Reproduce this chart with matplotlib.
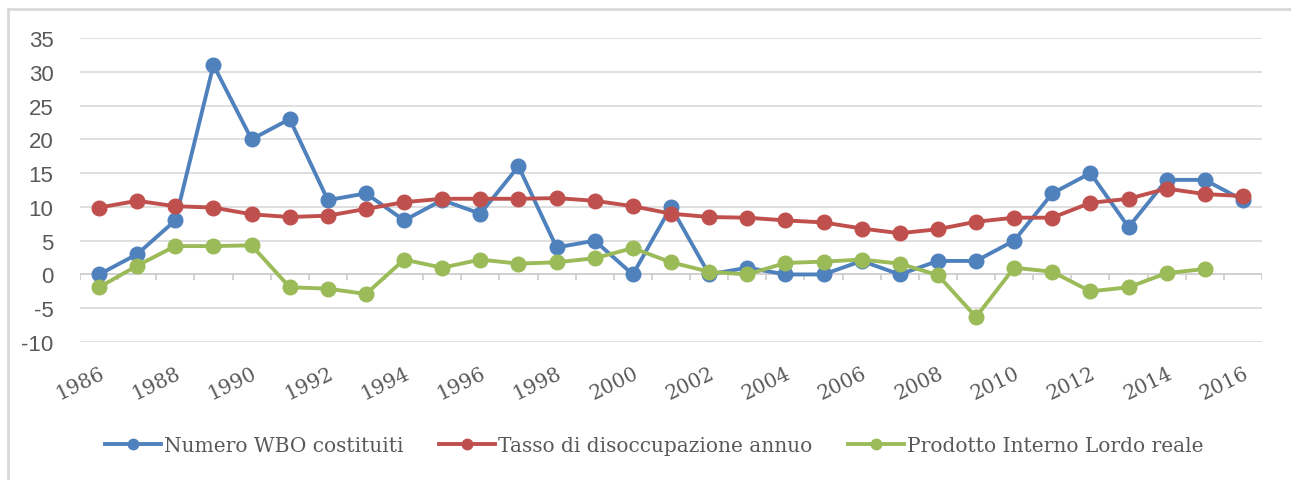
import matplotlib
matplotlib.use("Agg")
import matplotlib.pyplot as plt
from matplotlib.lines import Line2D

plt.rcParams["axes.unicode_minus"] = False

years = list(range(1986, 2017))
wbo = [0, 3, 8, 31, 20, 23, 11, 12, 8, 11, 9, 16, 4, 5, 0, 10, 0, 1, 0, 0,
       2, 0, 2, 2, 5, 12, 15, 7, 14, 14, 11]
disoccupazione = [9.9, 10.9, 10.1, 9.9, 8.9, 8.5, 8.7, 9.7, 10.7, 11.2, 11.2,
                  11.2, 11.3, 10.9, 10.1, 9.0, 8.5, 8.4, 8.0, 7.7, 6.8, 6.1,
                  6.7, 7.8, 8.4, 8.4, 10.6, 11.2, 12.7, 11.9, 11.6]
pil = [-1.9, 1.3, 4.2, 4.2, 4.3, -1.9, -2.1, -2.9, 2.2, 1.0, 2.2, 1.6, 1.8,
       2.4, 3.9, 1.8, 0.4, 0.0, 1.7, 1.9, 2.2, 1.6, -0.1, -6.3, 1.0, 0.4,
       -2.5, -1.9, 0.2, 0.8]
series_names = ["Numero WBO costituiti", "Tasso di disoccupazione annuo",
                "Prodotto Interno Lordo reale"]
colors = ["#4f81bd", "#c0504d", "#9bbb59"]
yticks = [-10, -5, 0, 5, 10, 15, 20, 25, 30, 35]

W, H = 1291, 481
fig = plt.figure(figsize=(W / 100, H / 100), dpi=100)
ax = fig.add_axes([80 / W, 1 - 343 / H, (1262 - 80) / W, (343 - 39) / H])

x = list(range(len(years)))
for vals, c, name in zip([wbo, disoccupazione, pil], colors, series_names):
    ax.plot(x[:len(vals)], vals, color=c, lw=2.8, marker="o", ms=10.5,
            solid_capstyle="round", solid_joinstyle="round", label=name,
            zorder=3)

ax.set_xlim(-0.5, len(years) - 0.5)
ax.set_ylim(-10, 35)
ax.set_yticks(yticks)
ax.yaxis.grid(True, color="#d9d9d9", lw=1.2)
ax.set_axisbelow(True)
for s in ax.spines.values():
    s.set_visible(False)
ax.tick_params(axis="y", length=0, pad=19, labelsize=16, labelcolor="#595959")
for lab in ax.get_yticklabels():
    lab.set_fontfamily("Liberation Sans")

# category axis at zero with tick marks between categories
ax.axhline(0, color="#d0d0d0", lw=1.3, zorder=1)
bounds = [i - 0.5 for i in range(len(years) + 1)]
ax.vlines(bounds, -0.85, 0, color="#d0d0d0", lw=1.3, zorder=1)

ax.set_xticks(x[::2])
ax.set_xticklabels([str(y) for y in years[::2]], rotation=26, ha="right",
                   va="top", rotation_mode="anchor",
                   fontfamily="DejaVu Serif", fontsize=14.5, color="#595959")
ax.tick_params(axis="x", length=0, pad=15)

handles = [Line2D([], [], color=c, lw=2.8, marker="o", ms=7.5) for c in colors]
fig.legend(handles, series_names, loc="center",
           bbox_to_anchor=(654 / W, 1 - 447 / H),
           ncol=3, frameon=False, handlelength=2.8, handletextpad=0.15,
           columnspacing=1.75, prop={"family": "DejaVu Serif", "size": 14.5},
           labelcolor="#595959")

# outer chart frame (top and left edges visible)
fig.add_artist(Line2D([8 / W, 1], [1 - 10 / H, 1 - 10 / H], color="#d9d9d9",
                      lw=2, transform=fig.transFigure))
fig.add_artist(Line2D([8 / W, 8 / W], [0, 1 - 10 / H], color="#d9d9d9",
                      lw=2, transform=fig.transFigure))

fig.savefig("out.png", dpi=100, facecolor="white")
